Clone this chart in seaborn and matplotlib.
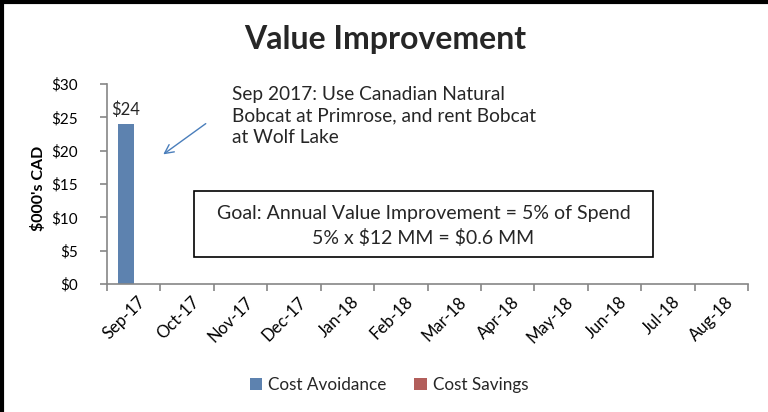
import matplotlib
matplotlib.use("Agg")
import matplotlib.pyplot as plt
import seaborn as sns
import pandas as pd
import numpy as np
from matplotlib.ticker import FixedLocator, FuncFormatter

months = ["Sep-17", "Oct-17", "Nov-17", "Dec-17", "Jan-18", "Feb-18",
          "Mar-18", "Apr-18", "May-18", "Jun-18", "Jul-18", "Aug-18"]
cost_avoidance = [24, 0, 0, 0, 0, 0, 0, 0, 0, 0, 0, 0]
cost_savings = [0, 0, 0, 0, 0, 0, 0, 0, 0, 0, 0, 0]
series_names = ["Cost Avoidance", "Cost Savings"]
colors = ["#4F81BD", "#C0504D"]

df = pd.DataFrame({
    "Month": months * 2,
    "Value": cost_avoidance + cost_savings,
    "Series": [series_names[0]] * len(months) + [series_names[1]] * len(months),
})

sns.set_theme(style="white")
plt.rcParams["font.family"] = ["Lato", "DejaVu Sans"]
plt.rcParams["text.parse_math"] = False

fig = plt.figure(figsize=(7.68, 4.12), dpi=100)
ax = fig.add_axes([107/768, 1-284/412, (748-107)/768, 200/412])

sns.barplot(data=df, x="Month", y="Value", hue="Series", palette=colors,
            width=0.6, linewidth=0, ax=ax, legend=True)

ax.set_ylim(0, 30)
ax.set_xlim(-0.5, len(months) - 0.5)
ax.set_yticks(np.arange(0, 31, 5))
ax.yaxis.set_major_formatter(FuncFormatter(lambda v, p: f"${v:.0f}"))
ax.set_xlabel("")
ax.set_ylabel("$000's CAD", fontsize=11.5, fontweight="bold", color="black")
ax.yaxis.set_label_coords((46 - 107) / 641, 0.48)

grey = "#868686"
for s in ["top", "right"]:
    ax.spines[s].set_visible(False)
for s in ["left", "bottom"]:
    ax.spines[s].set_color(grey)
    ax.spines[s].set_linewidth(1.2)

ax.tick_params(axis="y", left=True, length=5, width=1.2, color=grey,
               labelsize=11, pad=16, labelcolor="black")
ax.tick_params(axis="x", which="major", length=0, labelsize=12, pad=7,
               labelcolor="black")
ax.xaxis.set_minor_locator(FixedLocator(np.arange(-0.5, len(months), 1.0)))
ax.tick_params(axis="x", which="minor", bottom=True, length=5, width=1.2,
               color=grey)
plt.setp(ax.get_xticklabels(), rotation=45, ha="right", rotation_mode="anchor")
for lbl in ax.get_xticklabels():
    lbl.set_transform(lbl.get_transform() +
                      matplotlib.transforms.ScaledTranslation(4/100, 0, fig.dpi_scale_trans))

# value label
cont = ax.containers[0]
labels = [f"${v:.0f}" if v > 0 else "" for v in cost_avoidance]
ax.bar_label(cont, labels=labels, padding=4, fontsize=12)

# legend
handles, lbls = ax.get_legend_handles_labels()
ax.legend(handles, lbls, loc="center", bbox_to_anchor=(389/768, 1-385/412),
          bbox_transform=fig.transFigure, ncol=2, frameon=False, fontsize=12.3,
          handlelength=0.75, handleheight=0.75, handletextpad=0.35,
          columnspacing=1.6)

# title
fig.text(385/768, 1-40/412, "Value Improvement", ha="center", va="center",
         fontsize=23, fontweight="bold")

# annotation
fig.text(232/768, 1-116/412,
         "Sep 2017: Use Canadian Natural\nBobcat at Primrose, and rent Bobcat\nat Wolf Lake",
         ha="left", va="center", fontsize=13.8, linespacing=1.3)
ax.annotate("", xy=(161/768, 1-156/412), xytext=(208/768, 1-122/412),
            xycoords="figure fraction", textcoords="figure fraction",
            arrowprops=dict(arrowstyle="->", color="#4A7EBB", lw=1.0,
                            mutation_scale=16))

# goal box
fig.patches.append(plt.Rectangle((194/768, 1-257/412), (653-194)/768, 66/412,
                                 transform=fig.transFigure, fill=False,
                                 edgecolor="black", linewidth=1.2))
fig.text(423.5/768, 1-213/412, "Goal: Annual Value Improvement = 5% of Spend",
         ha="center", va="center", fontsize=14)
fig.text(423.5/768, 1-238/412, "5% x $12 MM = $0.6 MM",
         ha="center", va="center", fontsize=14)

# outer frame lines (top and left)
fig.add_artist(plt.Line2D([0, 1], [1 - 1.5/412, 1 - 1.5/412], transform=fig.transFigure,
                          color="black", linewidth=3))
fig.add_artist(plt.Line2D([1.5/768, 1.5/768], [0, 1], transform=fig.transFigure,
                          color="black", linewidth=3))

fig.savefig("out.png", dpi=100)
